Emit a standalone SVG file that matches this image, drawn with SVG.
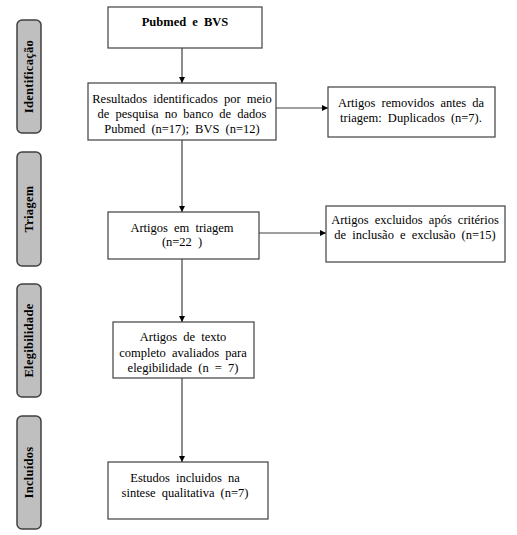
<svg xmlns="http://www.w3.org/2000/svg" width="517" height="535" viewBox="0 0 517 535">
<defs>
<marker id="ah" viewBox="0 0 10 10" refX="10" refY="5" markerWidth="6" markerHeight="6" orient="auto" markerUnits="userSpaceOnUse">
<path d="M0,0 L10,5 L0,10 z" fill="#000"/>
</marker>
<style>
.box{fill:#fff;stroke:#404040;stroke-width:1.2}
.side{fill:#bfbfbf;stroke:#404040;stroke-width:1.5}
text{font-family:'Liberation Serif','Times New Roman',serif}
.t{font-size:12.5px;fill:#000;text-anchor:middle;word-spacing:3px}
.b{font-weight:bold}
.st{font-size:12.5px;font-weight:bold;fill:#000;text-anchor:middle;letter-spacing:0.3px}
.c{stroke:#404040;stroke-width:1.2;fill:none;marker-end:url(#ah)}
</style>
</defs>
<rect width="517" height="535" fill="#fff"/>
<g id="side-identificacao"><rect class="side" x="17" y="20" width="24" height="113" rx="5"/><text class="st" font-family="Liberation Serif, serif" transform="translate(33,76.5) rotate(-90)">Identificação</text></g>
<g id="side-triagem"><rect class="side" x="17" y="152" width="24" height="114" rx="5"/><text class="st" font-family="Liberation Serif, serif" transform="translate(33,209) rotate(-90)">Triagem</text></g>
<g id="side-elegibilidade"><rect class="side" x="17" y="284" width="24" height="113" rx="5"/><text class="st" font-family="Liberation Serif, serif" transform="translate(33,340.5) rotate(-90)">Elegibilidade</text></g>
<g id="side-incluidos"><rect class="side" x="17" y="416" width="24" height="113" rx="5"/><text class="st" font-family="Liberation Serif, serif" transform="translate(33,472.5) rotate(-90)">Incluídos</text></g>
<g id="connectors">
<line class="c" x1="182" y1="48" x2="182" y2="83"/>
<line class="c" x1="276" y1="108" x2="328" y2="108"/>
<line class="c" x1="182" y1="140" x2="182" y2="212"/>
<line class="c" x1="259" y1="233" x2="326" y2="233"/>
<line class="c" x1="182" y1="259" x2="182" y2="322"/>
<line class="c" x1="182" y1="378" x2="182" y2="462"/>
</g>
<g id="n-pubmed"><rect class="box" x="108" y="7" width="154" height="41"/><text class="t b" x="185" y="26">Pubmed  e BVS</text></g>
<g id="n-resultados"><rect class="box" x="88" y="83" width="188" height="57"/><text class="t" x="182" y="103">Resultados identificados por meio</text><text class="t" x="182" y="118">de pesquisa no banco de dados</text><text class="t" x="182" y="133">Pubmed (n=17); BVS (n=12)</text></g>
<g id="n-removidos"><rect class="box" x="328" y="87" width="167" height="50"/><text class="t" x="411" y="107">Artigos removidos antes da</text><text class="t" x="411" y="122">triagem: Duplicados (n=7).</text></g>
<g id="n-triagem"><rect class="box" x="108" y="212" width="151" height="47"/><text class="t" x="182" y="232">Artigos em triagem</text><text class="t" x="182" y="246">(n=22 )</text></g>
<g id="n-excluidos"><rect class="box" x="326" y="206" width="179" height="56"/><text class="t" x="415" y="224">Artigos excluidos após critérios</text><text class="t" x="415" y="239">de inclusão e exclusão (n=15)</text></g>
<g id="n-elegibilidade"><rect class="box" x="113" y="322" width="141" height="56"/><text class="t" x="183" y="341">Artigos de texto</text><text class="t" x="183" y="357">completo avaliados para</text><text class="t" x="183" y="372">elegibilidade (n = 7)</text></g>
<g id="n-estudos"><rect class="box" x="108" y="462" width="160" height="57"/><text class="t" x="185" y="482">Estudos incluidos na</text><text class="t" x="185" y="497">sintese qualitativa (n=7)</text></g>
</svg>
